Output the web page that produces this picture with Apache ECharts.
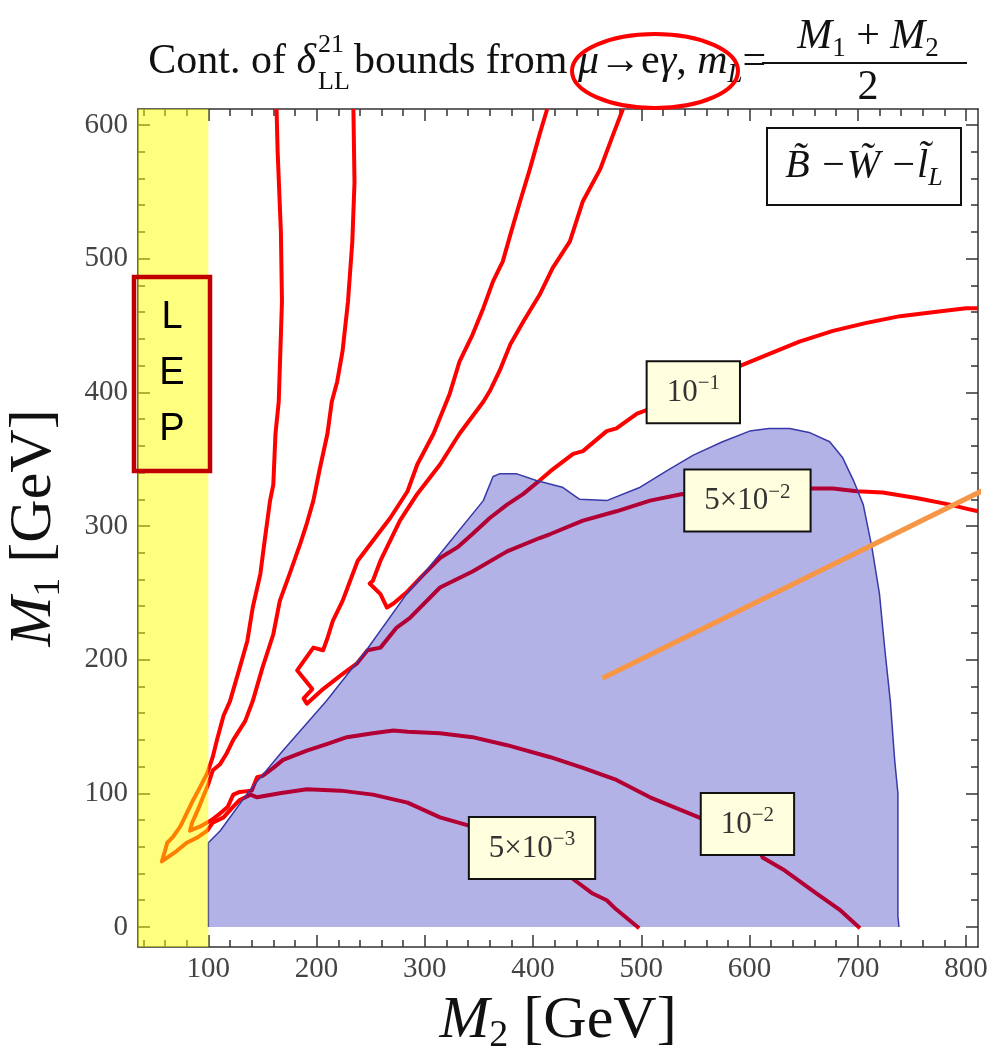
<!DOCTYPE html>
<html>
<head>
<meta charset="utf-8">
<title>Cont. of δLL bounds from μ→eγ</title>
<script src="https://cdn.jsdelivr.net/npm/echarts@6/dist/echarts.min.js"></script>
<style>
  html, body { margin: 0; padding: 0; background: #fff; }
  #chart { width: 987px; height: 1053px; }
</style>
</head>
<body>
<div id="chart"></div>
<script>
// 坐标范围 (GeV)：x = M2, y = M1
const xRange = [35, 811];
const yRange = [-15, 612];
const xMajorTicks = [100, 200, 300, 400, 500, 600, 700, 800];
const yMajorTicks = [0, 100, 200, 300, 400, 500, 600];

// LEP 排除带 M2 < 100
const lepBand = [35, 100];

// 蓝色阴影区域的边界
const shadedEdge = [
  [100, 0], [100, 63], [111, 72], [138, 102], [169, 132], [209, 169], [246, 207],
  [283, 249], [314, 279], [354, 319], [363, 337], [369, 339], [385, 339], [403, 334],
  [427, 329], [443, 320], [468, 319], [499, 329], [523, 341], [548, 353], [575, 363],
  [600, 371], [618, 373], [637, 373], [655, 370], [674, 363], [686, 351], [696, 334],
  [705, 316], [713, 284], [720, 249], [725, 207], [730, 169], [734, 125], [737, 100],
  [737, 8], [738, 0]
];

// 等值线 10^-1
const contour10m1 = [
  [483, 612], [474, 593], [462, 567], [446, 543], [434, 513], [418, 493], [406, 473],
  [391, 453], [379, 436], [369, 416], [360, 401], [354, 393], [332, 369], [314, 346],
  [293, 324], [277, 304], [268, 289], [259, 274], [252, 259], [249, 257], [259, 249],
  [265, 239], [271, 242], [284, 251], [298, 263], [314, 276], [330, 284], [344, 294],
  [360, 306], [376, 316], [391, 324], [406, 334], [416, 341], [437, 354], [446, 356],
  [468, 371], [477, 373], [496, 384], [506, 387], [548, 400], [589, 419], [616, 428],
  [646, 438], [677, 446], [708, 452], [739, 457], [769, 460], [800, 463], [811, 463]
];

// 等值线 5x10^-2
const contour5x10m2 = [
  [811, 311], [800, 313], [785, 316], [754, 321], [723, 325], [699, 326], [677, 328],
  [657, 328], [598, 319], [538, 324], [508, 319], [477, 311], [446, 304], [416, 294],
  [406, 291], [376, 281], [344, 266], [314, 254], [286, 231], [274, 224], [259, 209],
  [247, 207], [237, 197], [222, 188], [206, 178], [191, 167], [188, 171], [196, 178],
  [182, 192], [197, 209], [206, 207], [210, 216], [215, 229], [224, 244], [231, 259],
  [238, 274], [252, 289], [268, 306], [284, 326], [293, 346], [308, 369], [323, 399],
  [332, 423], [344, 443], [354, 463], [363, 483], [372, 498], [379, 518], [388, 543],
  [397, 567], [406, 593], [413, 612]
];

// 等值线 10^-2 (含左侧进入 LEP 区的分支)
const contour10m2 = [
  [234, 612], [235, 557], [233, 513], [229, 468], [224, 431], [219, 408], [214, 393],
  [210, 369], [203, 343], [197, 319], [191, 302], [185, 287], [175, 264], [166, 244],
  [160, 219], [150, 194], [141, 169], [134, 154], [123, 140], [117, 130], [111, 122],
  [104, 117], [100, 107], [95, 97], [90, 87], [85, 78], [83, 72], [92, 75], [103, 80],
  [111, 85], [118, 90], [123, 99], [129, 101], [140, 102], [145, 112], [150, 113],
  [160, 119], [169, 125], [191, 132], [210, 137], [228, 142], [252, 145], [271, 147],
  [284, 146], [314, 145], [344, 142], [376, 136], [416, 127], [446, 119], [477, 110],
  [508, 97], [556, 81], [598, 77], [612, 52], [631, 43], [662, 25], [683, 13], [702, -1]
];

// 等值线 5x10^-3 (含左侧进入 LEP 区的分支)
const contour5x10m3 = [
  [163, 612], [164, 580], [167, 520], [168, 468], [165, 393], [162, 369], [160, 331],
  [157, 319], [152, 289], [148, 264], [141, 239], [136, 214], [129, 194], [120, 169],
  [114, 158], [108, 140], [104, 127], [99, 115], [92, 104], [86, 95], [80, 85], [74, 75],
  [67, 67], [62, 63], [60, 57], [57, 49], [71, 57], [80, 63], [90, 67], [99, 72],
  [104, 78], [114, 82], [123, 90], [129, 95], [139, 99], [145, 97], [166, 100],
  [191, 103], [222, 102], [252, 99], [284, 93], [314, 82], [340, 76], [399, 59],
  [437, 36], [440, 34], [455, 25], [468, 20], [477, 13], [489, 5], [498, -1]
];

// 等值线标签
const labelPoints = [[548, 400], [598, 319], [598, 77], [399, 59]];
const labelMantissa = ['10', '5×10', '10', '5×10'];
const labelExponent = ['−1', '−2', '−2', '−3'];

// 橙色标注线
const noteLine = [[464, 186], [819, 328]];

const serif = '"Liberation Serif", "Times New Roman", serif';
const sans = '"Liberation Sans", Arial, sans-serif';

// 次刻度：每 20 一格，去掉主刻度
function minorTicks(from, to) {
  const out = [];
  for (let v = from; v <= to; v += 20) {
    if (v % 100 !== 0) out.push(v);
  }
  return out;
}
const xMinorTicks = minorTicks(40, 800);
const yMinorTicks = minorTicks(20, 580);

function frameAxis(position, range, ticks, len, major, labels) {
  return {
    type: 'value',
    position: position,
    min: range[0],
    max: range[1],
    splitLine: { show: false },
    axisLine: { show: major, onZero: false, lineStyle: { color: '#333', width: 1.5 } },
    axisTick: {
      show: true, inside: true, length: len, customValues: ticks,
      lineStyle: { color: '#333', width: 1.5 }
    },
    axisLabel: labels ? {
      show: true, customValues: ticks, fontFamily: serif, fontSize: 29, color: '#444',
      margin: position === 'left' ? 10 : 8
    } : { show: false }
  };
}

const nameRich = {
  i: { fontFamily: serif, fontSize: 60, fontStyle: 'italic', color: '#111' },
  s: { fontFamily: serif, fontSize: 38, color: '#111', padding: [30, 0, 0, 0] },
  n: { fontFamily: serif, fontSize: 60, color: '#111' }
};

const xAxes = [
  frameAxis('bottom', xRange, xMajorTicks, 12, true, true),
  frameAxis('bottom', xRange, xMinorTicks, 7, false, false),
  frameAxis('top', xRange, xMajorTicks, 12, true, false),
  frameAxis('top', xRange, xMinorTicks, 7, false, false)
];
xAxes[0].name = '{i|M}{s|2}{n| [GeV]}';
xAxes[0].nameLocation = 'middle';
xAxes[0].nameGap = 40;
xAxes[0].nameTextStyle = { fontFamily: serif, fontSize: 60, color: '#111', rich: nameRich };

const yAxes = [
  frameAxis('left', yRange, yMajorTicks, 12, true, true),
  frameAxis('left', yRange, yMinorTicks, 7, false, false),
  frameAxis('right', yRange, yMajorTicks, 12, true, false),
  frameAxis('right', yRange, yMinorTicks, 7, false, false)
];
yAxes[0].name = '{i|M}{s|1}{n| [GeV]}';
yAxes[0].nameLocation = 'middle';
yAxes[0].nameGap = 70;
yAxes[0].nameTextStyle = { fontFamily: serif, fontSize: 60, color: '#111', rich: nameRich };

function redContour(data) {
  return {
    type: 'line', data: data, symbol: 'none', z: 2, silent: true,
    lineStyle: { color: '#ff0000', width: 4, join: 'round' }
  };
}

// 标题文字的 rich 样式
function tok(size, italic, extra) {
  return Object.assign({
    fontFamily: serif, fontSize: size, fontStyle: italic ? 'italic' : 'normal', fill: '#111'
  }, extra || {});
}
function gText(x, y, text, rich, align) {
  return {
    type: 'text', x: x, y: y, z: 100, silent: true,
    style: {
      text: text, rich: rich, fill: '#111',
      align: align, textAlign: align, verticalAlign: 'middle', textVerticalAlign: 'middle'
    }
  };
}

const graphics = [
  gText(316, 62, '{n|Cont. of }{i|δ}', { n: tok(42), i: tok(42, true) }, 'right'),
  gText(318, 45, '{n|21}', { n: tok(26) }, 'left'),
  gText(318, 82, '{n|LL}', { n: tok(26) }, 'left'),
  gText(354, 62, '{n|bounds from }{i|μ}{n|→e}{i|γ}{n|, }{i|m}{s|L}{n|=}', {
    n: tok(42), i: tok(42, true), s: tok(27, true, { padding: [26, 0, 0, 0] })
  }, 'left'),
  gText(868, 37, '{i|M}{s|1}{n| + }{i|M}{s|2}', {
    n: tok(42), i: tok(42, true), s: tok(27, false, { padding: [24, 0, 0, 0] })
  }, 'center'),
  {
    type: 'line', z: 100, silent: true,
    shape: { x1: 762, y1: 63, x2: 967, y2: 63 },
    style: { stroke: '#111', lineWidth: 2 }
  },
  gText(868, 88, '{n|2}', { n: tok(42) }, 'center'),
  // 红色椭圆圈注
  {
    type: 'ellipse', z: 101, silent: true,
    shape: { cx: 655, cy: 71, rx: 83, ry: 37 },
    style: { fill: 'none', stroke: '#ff0000', lineWidth: 4 }
  },
  // 图例框
  {
    type: 'rect', z: 100, silent: true,
    shape: { x: 767, y: 128, width: 194, height: 77 },
    style: { fill: '#fff', stroke: '#111', lineWidth: 2 }
  },
  gText(864, 166, '{i|B\u0303 \u2212W\u0303 \u2212l\u0303}{s|L}', {
    i: tok(40, true), s: tok(26, true, { padding: [24, 0, 0, 0] })
  }, 'center'),
  // LEP 框
  {
    type: 'rect', z: 100, silent: true,
    shape: { x: 134, y: 277, width: 76, height: 194 },
    style: { fill: 'none', stroke: '#c00000', lineWidth: 4.5 }
  }
];
['L', 'E', 'P'].forEach(function (ch, i) {
  graphics.push({
    type: 'text', x: 172, y: 318 + i * 56, z: 101, silent: true,
    style: {
      text: ch, fill: '#000', fontFamily: sans, fontSize: 38,
      align: 'center', textAlign: 'center', verticalAlign: 'middle', textVerticalAlign: 'middle'
    }
  });
});

const option = {
  animation: false,
  backgroundColor: '#fff',
  grid: { left: 138, top: 109, width: 840, height: 838, containLabel: false, outerBoundsMode: 'none' },
  xAxis: xAxes,
  yAxis: yAxes,
  graphic: { elements: graphics },
  series: [
    redContour(contour10m1),
    redContour(contour5x10m2),
    redContour(contour10m2),
    redContour(contour5x10m3),
    {
      // 半透明蓝色区域
      type: 'line', data: shadedEdge, symbol: 'none', z: 3, silent: true,
      lineStyle: { width: 0, opacity: 0 },
      areaStyle: { color: 'rgba(0, 0, 175, 0.3)', opacity: 1 }
    },
    {
      type: 'line', data: shadedEdge, symbol: 'none', z: 4, silent: true,
      lineStyle: { color: '#3838a8', width: 1.5 }
    },
    {
      // LEP 黄色带
      type: 'line', symbol: 'none', z: 5, silent: true,
      data: [[lepBand[0], yRange[1]], [lepBand[1], yRange[1]]],
      lineStyle: { width: 0, opacity: 0 },
      areaStyle: { color: 'rgba(255, 255, 0, 0.5)', origin: 'start', opacity: 1 }
    },
    {
      type: 'scatter', z: 6, silent: true, symbolSize: 1,
      itemStyle: { color: 'transparent', opacity: 1 },
      data: labelPoints.map(function (p, i) {
        return { value: p, label: { formatter: '{m|' + labelMantissa[i] + '}{e|' + labelExponent[i] + '}' } };
      }),
      label: {
        show: true, position: 'inside', opacity: 1,
        backgroundColor: '#ffffe0', borderColor: '#111', borderWidth: 2,
        padding: [11, 19, 10, 19],
        fontFamily: serif, fontSize: 31, color: '#333',
        rich: {
          m: { fontFamily: serif, fontSize: 31, color: '#333', lineHeight: 36 },
          e: { fontFamily: serif, fontSize: 21, color: '#333', padding: [0, 0, 18, 0] }
        }
      }
    },
    {
      type: 'line', data: noteLine, symbol: 'none', z: 7, clip: false, silent: true,
      lineStyle: { color: '#f79646', width: 5 }
    }
  ]
};

const chart = echarts.init(document.getElementById('chart'));
chart.setOption(option);
</script>
</body>
</html>
